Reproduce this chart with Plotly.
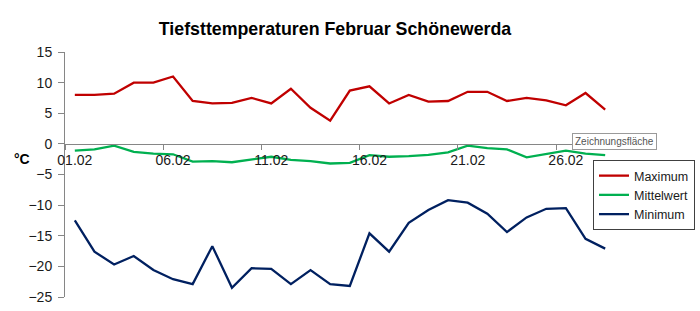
import plotly.graph_objects as go

days = [f"{d:02d}.02" for d in range(1, 29)]
maximum = [8.0, 8.0, 8.2, 10.0, 10.0, 11.0, 7.0, 6.6, 6.7, 7.5, 6.6, 9.0, 5.9, 3.8,
           8.7, 9.4, 6.6, 8.0, 6.9, 7.0, 8.5, 8.5, 7.0, 7.5, 7.1, 6.3, 8.3, 5.6]
mittelwert = [-1.1, -0.9, -0.3, -1.3, -1.6, -1.7, -2.9, -2.8, -3.0, -2.6, -2.1, -2.6, -2.8, -3.2,
              -3.1, -1.85, -2.1, -2.0, -1.8, -1.4, -0.3, -0.7, -0.9, -2.2, -1.7, -1.1, -1.6, -1.85]
minimum = [-12.5, -17.6, -19.7, -18.3, -20.6, -22.1, -22.9, -16.7, -23.5, -20.3, -20.4, -22.9, -20.6, -22.9,
           -23.2, -14.6, -17.6, -12.9, -10.8, -9.2, -9.6, -11.4, -14.4, -12.0, -10.6, -10.5, -15.5, -17.1]
series_names = ["Maximum", "Mittelwert", "Minimum"]
colors = ["#C00000", "#00B050", "#002060"]

W, H = 700, 311
ML, MR, MT, MB = 65, 85, 52, 14
PW, PH = W - ML - MR, H - MT - MB


def px_x(px):
    return (px - ML) / PW


def px_y(py):
    return (H - MB - py) / PH


fig = go.Figure()
for name, vals, col in zip(series_names, [maximum, mittelwert, minimum], colors):
    fig.add_trace(go.Scatter(x=days, y=vals, mode="lines", name=name,
                             line=dict(color=col, width=2.3)))

font_family = "Liberation Sans, Arial, sans-serif"
fig.update_layout(
    width=W, height=H,
    margin=dict(l=ML, r=MR, t=MT, b=MB, autoexpand=False),
    paper_bgcolor="white", plot_bgcolor="white",
    font=dict(family=font_family, size=14, color="#1a1a1a"),
    title=dict(text="<b>Tiefsttemperaturen Februar Schönewerda</b>",
               x=335/W, xref="container", xanchor="center",
               y=1 - 29/H, yref="container", yanchor="middle",
               font=dict(size=17.8, color="#000000")),
    showlegend=True,
    legend=dict(x=px_x(593), y=px_y(160),
                xanchor="left", yanchor="top",
                bordercolor="#404040", borderwidth=1, bgcolor="white",
                font=dict(size=12.5, color="#1a1a1a"),
                tracegroupgap=0, itemwidth=30),
    xaxis=dict(type="category", range=[-0.5, 27.5], anchor="free", position=0.625,
               showline=True, linecolor="#868686", linewidth=1,
               ticks="outside", ticklen=5, tickcolor="#868686",
               dtick=5, tickson="boundaries", tickangle=0, automargin=False,
               ticklabelstandoff=3,
               showgrid=False, zeroline=False,
               tickfont=dict(size=14, color="#1a1a1a")),
    yaxis=dict(range=[-25, 15], dtick=5, showline=True, linecolor="#868686", linewidth=1,
               ticks="outside", ticklen=6, tickcolor="#868686", automargin=False,
               ticklabelstandoff=3,
               showgrid=False, zeroline=False,
               tickfont=dict(size=14, color="#1a1a1a")),
)

fig.add_annotation(text="<b>°C</b>", xref="paper", yref="paper",
                   x=px_x(22), y=px_y(159), showarrow=False,
                   xanchor="center", yanchor="middle",
                   font=dict(size=14, color="#000000"))

fig.add_annotation(text="Zeichnungsfläche", xref="paper", yref="paper",
                   x=px_x(614), y=px_y(141.5), showarrow=False,
                   xanchor="center", yanchor="middle",
                   bgcolor="white", bordercolor="#9a9a9a", borderwidth=1, borderpad=2,
                   font=dict(size=10, color="#555555"))

fig.write_html("out.html")
